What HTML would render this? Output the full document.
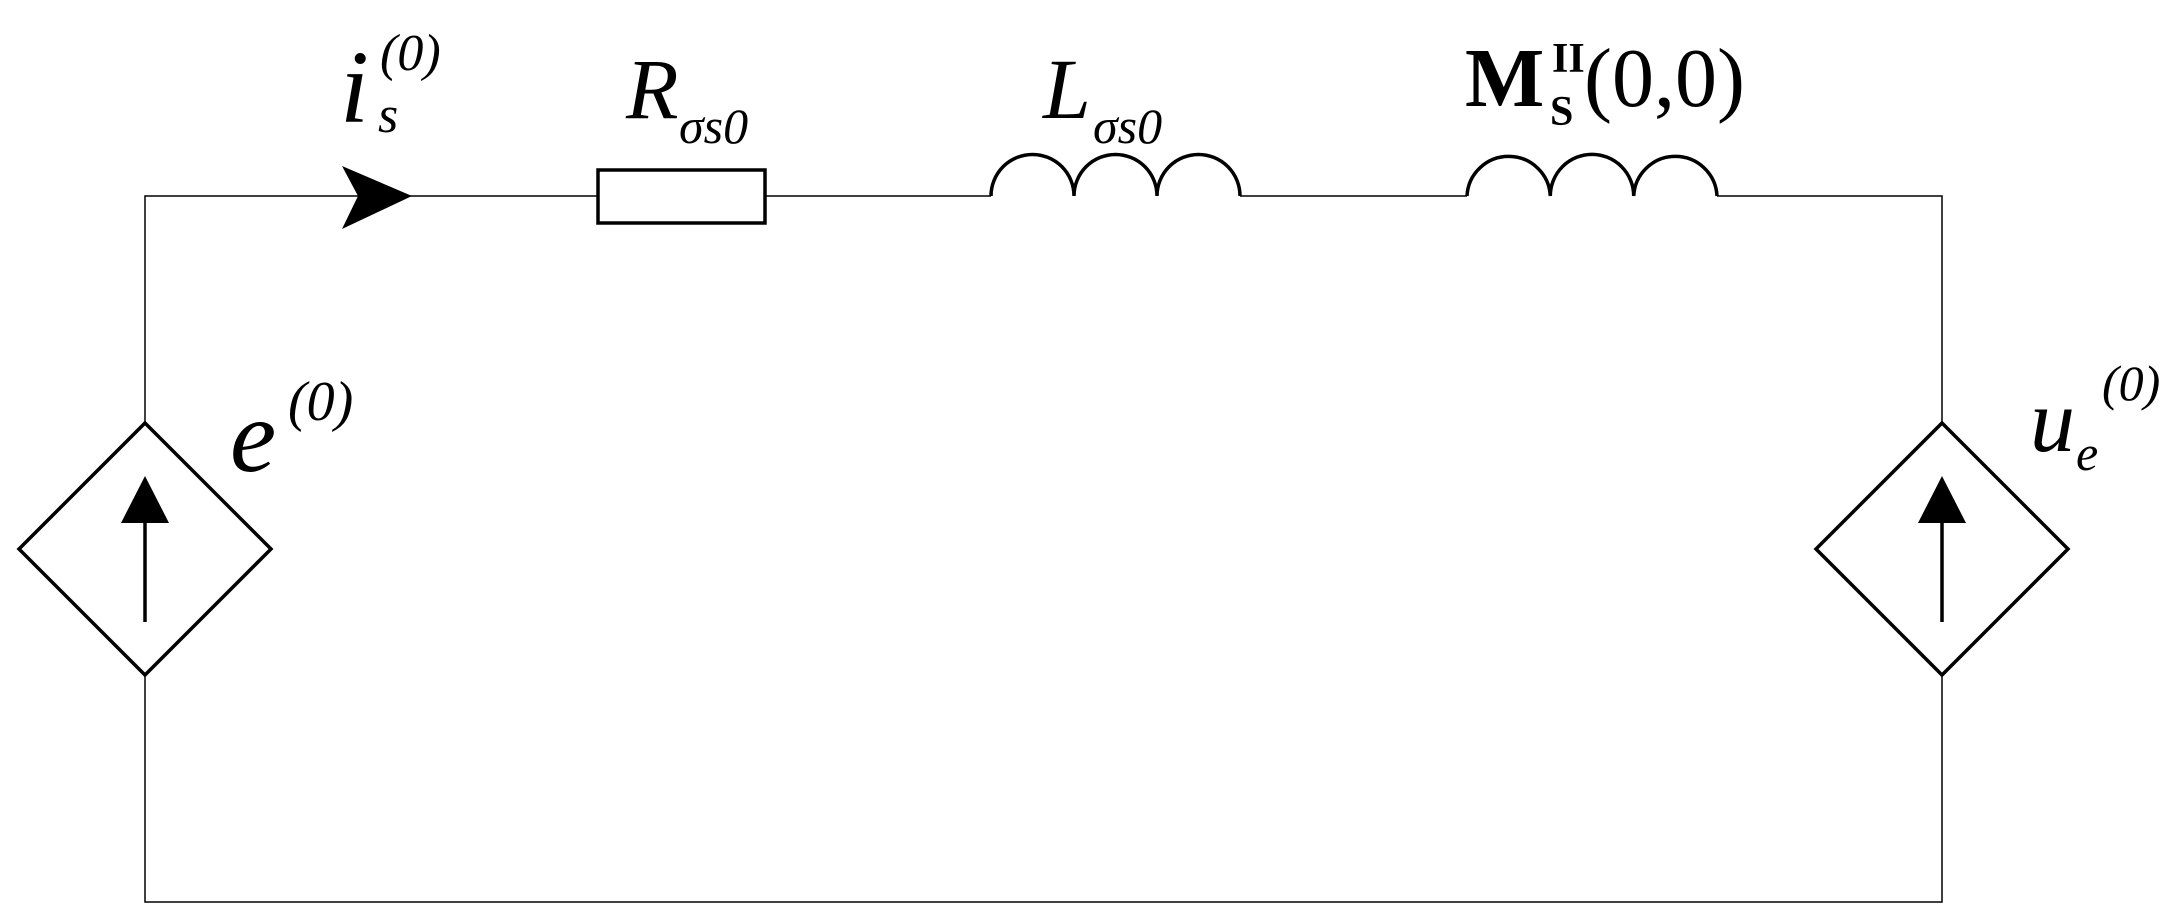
<!DOCTYPE html>
<html><head><meta charset="utf-8"><style>
html,body{margin:0;padding:0;background:#fff;}
svg{display:block;}
text{font-family:"Liberation Serif","Times New Roman",Times,serif;fill:#000;}
</style></head><body>
<svg width="2171" height="924" viewBox="0 0 2171 924" xmlns="http://www.w3.org/2000/svg">
<g fill="none" stroke="#000" stroke-width="1.5">
<polyline points="145,423 145,196 598,196"/>
<line x1="765" y1="196" x2="991" y2="196"/>
<line x1="1240" y1="196" x2="1467" y2="196"/>
<polyline points="1717,196 1942,196 1942,423"/>
<polyline points="145,675 145,902 1942,902 1942,675"/>
</g>
<g fill="none" stroke="#000" stroke-width="3.5">
<rect x="598" y="170" width="167" height="53"/>
<path d="M991,196 A41.5,41.5 0 0 1 1074,196 A41.5,41.5 0 0 1 1157,196 A41.5,41.5 0 0 1 1240,196"/>
<path d="M1467,196 A41.7,41.7 0 0 1 1550.3,196 A41.7,41.7 0 0 1 1633.7,196 A41.7,41.7 0 0 1 1717,196"/>
<polygon points="145,423 271,549 145,675 19,549"/>
<polygon points="1942,423 2068,549 1942,675 1816,549"/>
<line x1="145" y1="622" x2="145" y2="515"/>
<line x1="1942" y1="622" x2="1942" y2="515"/>
</g>
<polygon points="145,476 169,523 121,523" fill="#000"/>
<polygon points="1942,476 1966,523 1918,523" fill="#000"/>
<polygon points="412,196 342,166 358,196 342,229" fill="#000"/>
<text x="340" y="122" font-size="104" font-style="italic">i</text>
<text x="378" y="132" font-size="52" font-style="italic">s</text>
<text x="380" y="70" font-size="52" font-style="italic">(0)</text>
<text x="626" y="118" font-size="86" font-style="italic">R</text>
<text x="679" y="143" font-size="50" font-style="italic">σs0</text>
<text x="1043" y="118" font-size="86" font-style="italic">L</text>
<text x="1093" y="143" font-size="50" font-style="italic">σs0</text>
<text x="1465" y="106" font-size="84" font-weight="bold">M</text>
<text x="1550" y="125" font-size="42" font-weight="bold">S</text>
<text x="1552" y="72" font-size="42" font-weight="bold">II</text>
<text x="1584" y="106" font-size="84">(0,0)</text>
<text x="230" y="471" font-size="104" font-style="italic">e</text>
<text x="288" y="420" font-size="56" font-style="italic">(0)</text>
<text x="2030" y="451" font-size="90" font-style="italic">u</text>
<text x="2076" y="470" font-size="50" font-style="italic">e</text>
<text x="2102" y="400" font-size="50" font-style="italic">(0)</text>
</svg>
</body></html>
